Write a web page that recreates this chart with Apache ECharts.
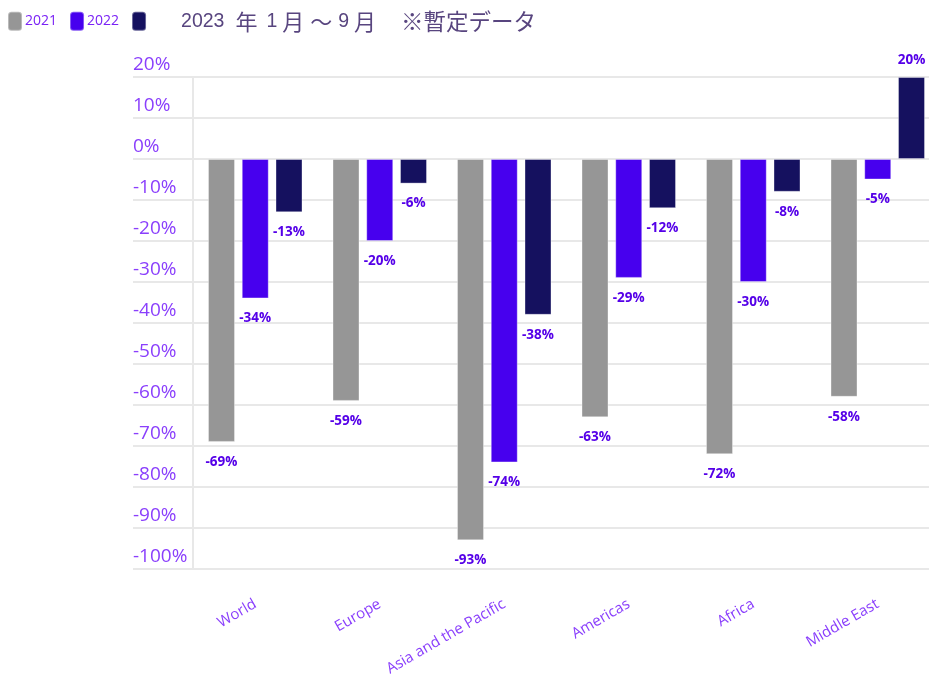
<!DOCTYPE html>
<html><head><meta charset="utf-8">
<script src="https://cdn.jsdelivr.net/npm/echarts@6/dist/echarts.min.js"></script>
<style>html,body{margin:0;padding:0;background:#fff}#c{width:929px;height:682px}</style>
</head><body><div id="c"></div>
<script>
const categories = ['World', 'Europe', 'Asia and the Pacific', 'Americas', 'Africa', 'Middle East'];
const seriesNames = ['2021', '2022', '2023 年 1 月～9 月　※暫定データ'];
const v2021 = [-69, -59, -93, -63, -72, -58];
const v2022 = [-34, -20, -74, -29, -30, -5];
const v2023 = [-13, -6, -38, -12, -8, 20];
const colors = ['#969696', '#4700ee', '#15115f'];

const chart = echarts.init(document.getElementById('c'), null, {renderer: 'canvas'});
const purple = '#8a3ffc';
const labelPurple = '#5500e8';
const gridTop = 77, gridBottom = 113;

function mkSeries(name, vals, color) {
  return {
    name, type: 'bar', xAxisIndex: 1, yAxisIndex: 1,
    barWidth: 27, barGap: '25%',
    itemStyle: {color, borderColor: 'rgba(255,255,255,0.35)', borderWidth: 1},
    data: vals.map(v => ({
      value: v,
      label: {show: true, position: v < 0 ? 'bottom' : 'top', distance: v < 0 ? 13 : 10,
        formatter: p => p.value + '%', color: labelPurple, fontWeight: 'bold', fontSize: 13.5,
        fontFamily: 'Open Sans, sans-serif'}
    }))
  };
}

const titleRich = '{a0|2023}{j1|年}{a|1}{j2|月}{j3|～}{a2|9}{j2|月}{j4|※暫定データ}';
const tc = '#58457f';
const latin = 'Liberation Sans, Arial, sans-serif';
const cjk = 'Noto Sans CJK JP, sans-serif';

chart.setOption({
  animation: false,
  color: colors,
  legend: {
    left: 2, top: 5, itemWidth: 14, itemHeight: 19, itemGap: 12,
    icon: 'roundRect',
    data: seriesNames,
    textStyle: {color: '#7a22f5', fontSize: 14, fontFamily: 'Open Sans, sans-serif', padding: [0,0,0,-2],
      rich: {
        a0: {fontSize: 19.5, color: tc, fontFamily: latin, padding: [0,0,0,32]},
        a: {fontSize: 19.5, color: tc, fontFamily: latin},
        a2: {fontSize: 19.5, color: tc, fontFamily: latin, padding: [0,0,0,6]},
        j1: {fontSize: 22, color: tc, fontFamily: cjk, padding: [0,9,0,11]},
        j2: {fontSize: 22, color: tc, fontFamily: cjk, padding: [0,0,0,5]},
        j3: {fontSize: 22, color: tc, fontFamily: cjk, padding: [0,0,0,6]},
        j4: {fontSize: 22.5, color: tc, fontFamily: cjk, padding: [0,0,0,25]}
      }},
    formatter: n => n === seriesNames[2] ? titleRich : n
  },
  grid: [
    {left: 133, right: 0, top: gridTop, bottom: gridBottom, outerBoundsMode: 'none', containLabel: false},
    {left: 193, width: 747, top: gridTop, bottom: gridBottom, outerBoundsMode: 'none', containLabel: false}
  ],
  xAxis: [
    {gridIndex: 0, type: 'value', show: false},
    {gridIndex: 1, type: 'category', data: categories,
      axisLine: {show: false},
      axisTick: {show: true, alignWithLabel: true, length: 9, lineStyle: {color: '#e6e6e6', width: 2}},
      axisLabel: {rotate: 30, margin: 34, color: purple, fontSize: 15, fontFamily: 'Open Sans, sans-serif', interval: 0}}
  ],
  yAxis: [
    {gridIndex: 0, type: 'value', min: -100, max: 20, interval: 10,
      axisLine: {show: false}, axisTick: {show: false},
      splitLine: {lineStyle: {color: '#e8e8e8', width: 2}},
      axisLabel: {inside: true, verticalAlign: 'bottom', margin: 0, padding: [0,0,3,0],
        formatter: '{value}%', color: purple, fontSize: 19, fontFamily: 'Open Sans, sans-serif'}},
    {gridIndex: 1, type: 'value', min: -100, max: 20, interval: 10,
      axisLine: {show: true, lineStyle: {color: '#e8e8e8', width: 2}},
      axisTick: {show: false}, axisLabel: {show: false}, splitLine: {show: false}}
  ],
  series: [
    {type: 'bar', xAxisIndex: 0, yAxisIndex: 0, data: [], silent: true},
    mkSeries(seriesNames[0], v2021, colors[0]),
    mkSeries(seriesNames[1], v2022, colors[1]),
    mkSeries(seriesNames[2], v2023, colors[2])
  ]
});
</script></body></html>
